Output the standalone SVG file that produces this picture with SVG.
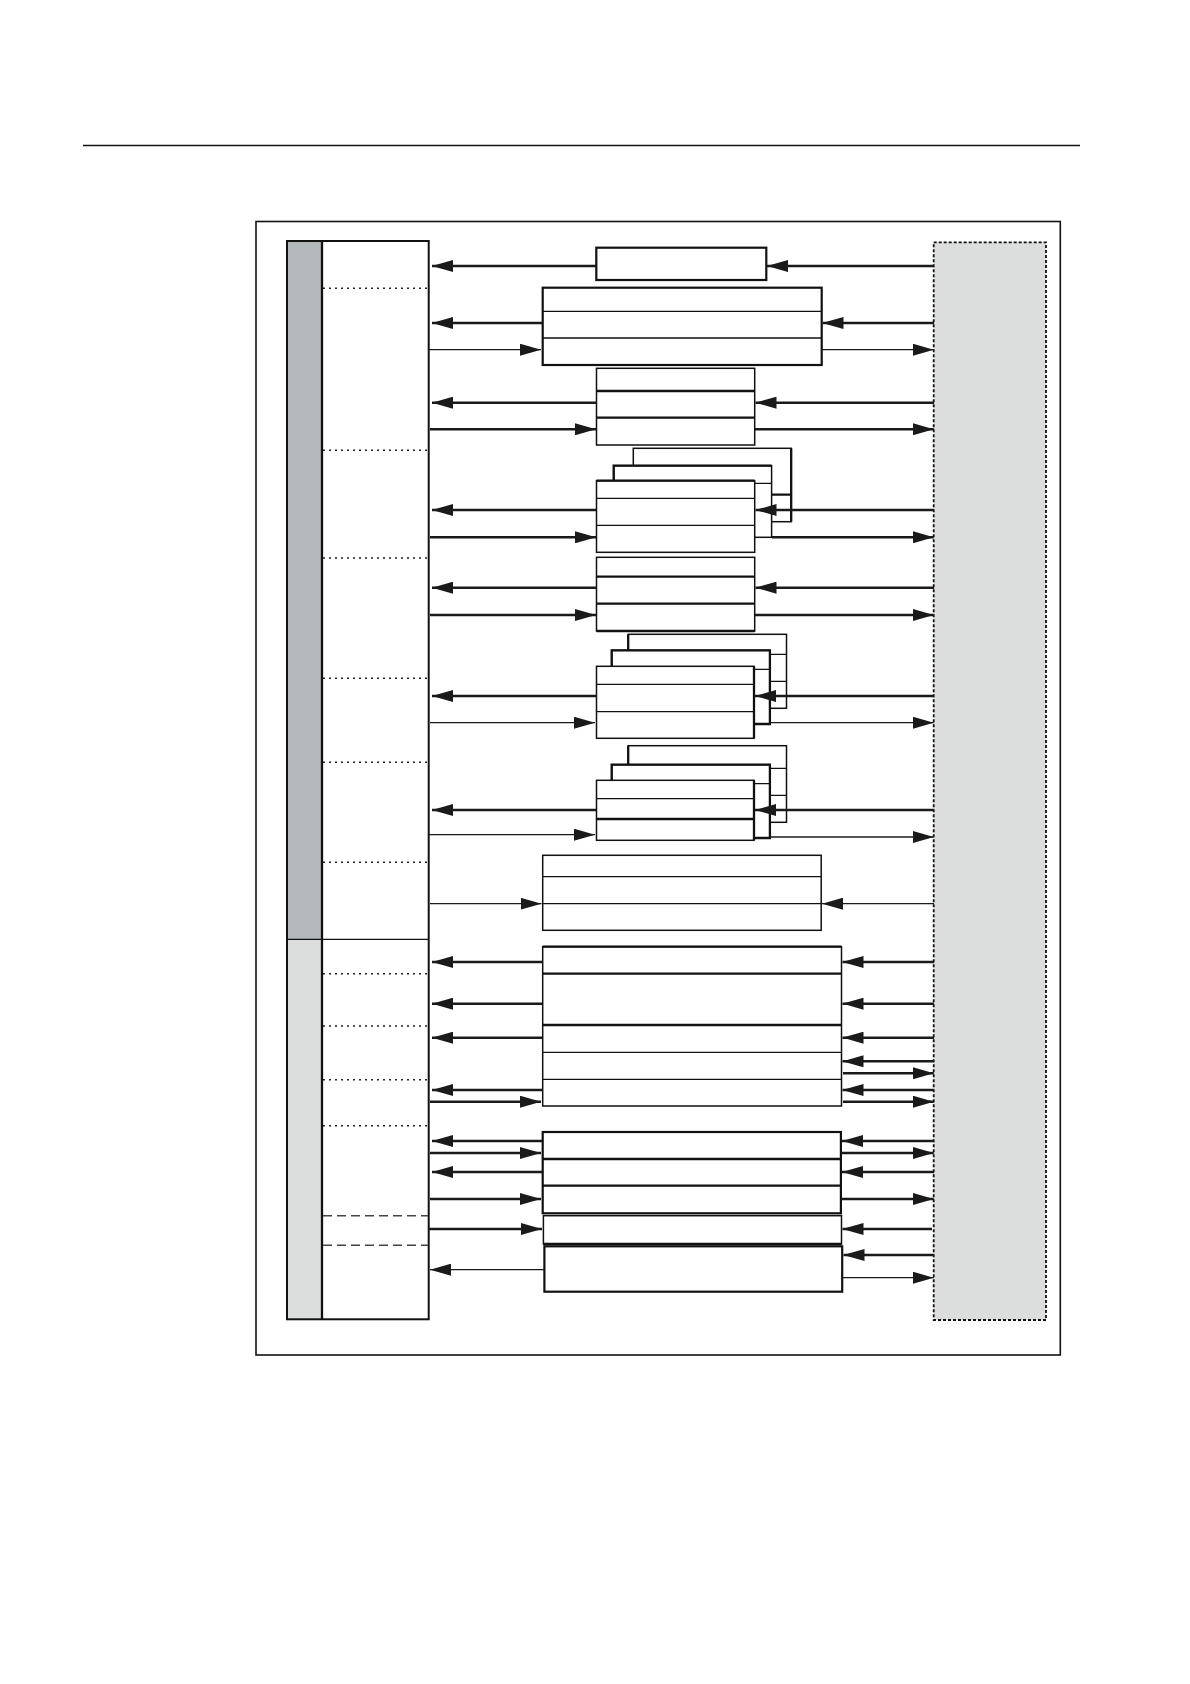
<svg xmlns="http://www.w3.org/2000/svg" width="1190" height="1684" viewBox="0 0 1190 1684">
<defs>
<marker id="ah" viewBox="0 0 21 12" refX="21" refY="6" markerWidth="21" markerHeight="12" markerUnits="userSpaceOnUse" orient="auto">
<path d="M0,0 L21,6 L0,12 z" fill="#1a1a1a"/>
</marker>
<style>
.bx{fill:#fff;stroke:#111;stroke-width:1.5}
.bk{fill:#fff;stroke:#111;stroke-width:2.2}
.ln{stroke:#111;stroke-width:1.3;fill:none}
.lk{stroke:#111;stroke-width:2.3;fill:none}
.dot{stroke:#222;stroke-width:1.6;stroke-dasharray:2,4;fill:none}
.dash{stroke:#444;stroke-width:1.6;stroke-dasharray:9,5;fill:none}
.a{stroke:#1a1a1a;stroke-width:2.4;fill:none;marker-end:url(#ah)}
.t{stroke:#1a1a1a;stroke-width:1.3;fill:none;marker-end:url(#ah)}
</style>
</defs>
<rect width="1190" height="1684" fill="#fff"/>
<line x1="83" y1="145.5" x2="1080" y2="145.5" stroke="#111" stroke-width="1.3"/>
<g id="frame"><rect x="256" y="221.5" width="804.3" height="1133.5" fill="none" stroke="#111" stroke-width="1.6"/></g>

<g id="left-column">
<rect x="287" y="241" width="35" height="698.3" fill="#b4babb"/>
<rect x="287" y="939.3" width="35" height="380" fill="#dcdede"/>
<rect x="322" y="241" width="106.7" height="1078.3" fill="#fff"/>
<line x1="322" y1="241" x2="322" y2="1319.3" class="lk"/>
<rect x="287" y="241" width="141.7" height="1078.3" fill="none" stroke="#111" stroke-width="2"/>
<line x1="287" y1="939.3" x2="428.7" y2="939.3" class="ln"/>
<line x1="323" y1="288.3" x2="428" y2="288.3" class="dot"/>
<line x1="323" y1="450.3" x2="428" y2="450.3" class="dot"/>
<line x1="323" y1="558" x2="428" y2="558" class="dot"/>
<line x1="323" y1="678.3" x2="428" y2="678.3" class="dot"/>
<line x1="323" y1="762.3" x2="428" y2="762.3" class="dot"/>
<line x1="323" y1="862.3" x2="428" y2="862.3" class="dot"/>
<line x1="323" y1="973.7" x2="428" y2="973.7" class="dot"/>
<line x1="323" y1="1026" x2="428" y2="1026" class="dot"/>
<line x1="323" y1="1079.7" x2="428" y2="1079.7" class="dot"/>
<line x1="323" y1="1125.7" x2="428" y2="1125.7" class="dot"/>
<line x1="323" y1="1215.7" x2="428" y2="1215.7" class="dash"/>
<line x1="323" y1="1245.3" x2="428" y2="1245.3" class="dash"/>
</g>

<g id="right-panel"><rect x="933.7" y="242.3" width="112.3" height="1077.7" fill="#dcdedd" stroke="#111" stroke-width="1.8" stroke-dasharray="3,2"/></g>

<g id="box1"><rect x="596.3" y="247.7" width="170" height="32.3" class="bk"/></g>
<g id="box2"><rect x="542.7" y="287.7" width="279" height="77.3" class="bk"/>
<line x1="542.7" y1="311.3" x2="821.7" y2="311.3" class="ln"/><line x1="542.7" y1="338" x2="821.7" y2="338" class="ln"/></g>
<g id="box3"><rect x="596.5" y="368.3" width="158.2" height="76.7" class="bx"/>
<line x1="596.5" y1="391" x2="754.7" y2="391" class="lk"/><line x1="596.5" y1="417.7" x2="754.7" y2="417.7" class="lk"/></g>

<g id="stackA">
<rect x="633.3" y="448.3" width="157.9" height="73.4" class="bx"/>
<line x1="633.3" y1="494.7" x2="791.2" y2="494.7" class="lk"/>
<path d="M791.2,448.3 V521.7" class="lk"/>
<rect x="613.7" y="465.7" width="157.9" height="71.6" class="bx"/>
<line x1="613.7" y1="483.3" x2="771.6" y2="483.3" class="ln"/>
<path d="M613.7,481 V465.7 H771.6" class="lk"/>
<rect x="596.5" y="480.7" width="158.2" height="71.6" class="bx"/>
<line x1="596.5" y1="498.3" x2="754.7" y2="498.3" class="ln"/><line x1="596.5" y1="525.3" x2="754.7" y2="525.3" class="ln"/>
<line x1="596.5" y1="480.7" x2="754.7" y2="480.7" class="lk"/>
</g>

<g id="boxB"><rect x="596.5" y="557.3" width="158.2" height="73.7" class="bx"/>
<line x1="596.5" y1="576.7" x2="754.7" y2="576.7" class="lk"/><line x1="596.5" y1="603.7" x2="754.7" y2="603.7" class="lk"/>
<line x1="596.5" y1="631" x2="754.7" y2="631" class="lk"/></g>

<g id="stackC">
<rect x="628.2" y="634.3" width="158.3" height="74" class="bx"/>
<line x1="628.2" y1="654.3" x2="786.5" y2="654.3" class="ln"/><line x1="628.2" y1="681.3" x2="786.5" y2="681.3" class="ln"/>
<path d="M628.2,650 V634.3" class="lk"/>
<rect x="611.7" y="650.3" width="158.2" height="73.7" class="bx"/>
<line x1="611.7" y1="669.3" x2="769.9" y2="669.3" class="ln"/>
<path d="M611.7,666 V650.3 H769.9 V724 H754" class="lk"/>
<rect x="596.5" y="666.3" width="157.5" height="72" class="bx"/>
<line x1="596.5" y1="684.3" x2="754" y2="684.3" class="ln"/><line x1="596.5" y1="711.7" x2="754" y2="711.7" class="ln"/>
<path d="M754,666.3 V738.3" class="lk"/>
</g>

<g id="stackD">
<rect x="628.2" y="745.7" width="158.3" height="76.6" class="bx"/>
<line x1="628.2" y1="768.3" x2="786.5" y2="768.3" class="ln"/><line x1="628.2" y1="795.3" x2="786.5" y2="795.3" class="ln"/>
<path d="M628.2,764 V745.7" class="lk"/>
<rect x="611.7" y="764.7" width="158.2" height="73.3" class="bx"/>
<line x1="611.7" y1="783.7" x2="769.9" y2="783.7" class="ln"/>
<path d="M611.7,780 V764.7 H769.9 V838 H754" class="lk"/>
<rect x="596.5" y="780.3" width="157.5" height="60" class="bx"/>
<line x1="596.5" y1="798.7" x2="754" y2="798.7" class="ln"/><line x1="596.5" y1="819" x2="754" y2="819" class="lk"/>
<path d="M754,780.3 V840.3" class="lk"/>
</g>

<g id="boxE"><rect x="542.7" y="855.3" width="278.5" height="75" class="bx"/>
<line x1="542.7" y1="876.7" x2="821.2" y2="876.7" class="ln"/><line x1="542.7" y1="903.7" x2="821.2" y2="903.7" class="ln"/></g>

<g id="boxF"><rect x="542.7" y="946.7" width="298.8" height="159.3" class="bx"/>
<line x1="542.7" y1="946.7" x2="841.5" y2="946.7" class="lk"/>
<line x1="542.7" y1="973.7" x2="841.5" y2="973.7" class="lk"/><line x1="542.7" y1="1025" x2="841.5" y2="1025" class="lk"/>
<line x1="542.7" y1="1052.3" x2="841.5" y2="1052.3" class="ln"/><line x1="542.7" y1="1079.3" x2="841.5" y2="1079.3" class="ln"/></g>

<g id="boxG"><rect x="542.7" y="1132" width="298.2" height="81.3" class="bk"/>
<line x1="542.7" y1="1159" x2="840.9" y2="1159" class="lk"/><line x1="542.7" y1="1185.7" x2="840.9" y2="1185.7" class="lk"/></g>
<g id="boxH"><rect x="543.4" y="1215.7" width="298.1" height="28.3" class="bx"/>
<line x1="543.4" y1="1244" x2="841.5" y2="1244" class="lk"/></g>
<g id="boxI"><rect x="544.4" y="1246.3" width="297.8" height="45.4" class="bk"/></g>

<g id="connectors">
<line x1="596" y1="266" x2="432" y2="266" class="a"/>
<line x1="542.7" y1="323" x2="432" y2="323" class="a"/>
<line x1="429" y1="349.7" x2="541" y2="349.7" class="t"/>
<line x1="596.5" y1="402.7" x2="432" y2="402.7" class="a"/>
<line x1="430" y1="429.3" x2="596" y2="429.3" class="a"/>
<line x1="596.5" y1="510" x2="432" y2="510" class="a"/>
<line x1="430" y1="537.3" x2="596" y2="537.3" class="a"/>
<line x1="596.5" y1="587.7" x2="432" y2="587.7" class="a"/>
<line x1="430" y1="615" x2="596" y2="615" class="a"/>
<line x1="596.5" y1="696" x2="432" y2="696" class="a"/>
<line x1="430" y1="722.7" x2="595" y2="722.7" class="t"/>
<line x1="596.5" y1="810" x2="432" y2="810" class="a"/>
<line x1="429" y1="834.7" x2="595" y2="834.7" class="t"/>
<line x1="430" y1="903.7" x2="541.5" y2="903.7" class="t"/>
<line x1="542" y1="962" x2="432" y2="962" class="a"/>
<line x1="542" y1="1003.7" x2="432" y2="1003.7" class="a"/>
<line x1="542" y1="1037.7" x2="432" y2="1037.7" class="a"/>
<line x1="542" y1="1090" x2="432" y2="1090" class="a"/>
<line x1="430" y1="1101.7" x2="541" y2="1101.7" class="a"/>
<line x1="542" y1="1141" x2="432" y2="1141" class="a"/>
<line x1="430" y1="1153" x2="541" y2="1153" class="a"/>
<line x1="542" y1="1172" x2="432" y2="1172" class="a"/>
<line x1="430" y1="1199" x2="541" y2="1199" class="a"/>
<line x1="429" y1="1229" x2="542" y2="1229" class="a"/>
<line x1="544" y1="1269.7" x2="430" y2="1269.7" class="t"/>

<line x1="934" y1="266" x2="767" y2="266" class="a"/>
<line x1="934" y1="323" x2="822.5" y2="323" class="a"/>
<line x1="822" y1="349.7" x2="933.8" y2="349.7" class="t"/>
<line x1="934" y1="402.7" x2="755.5" y2="402.7" class="a"/>
<line x1="755" y1="429.3" x2="933.8" y2="429.3" class="a"/>
<line x1="934" y1="510" x2="755.5" y2="510" class="a"/>
<line x1="772" y1="537.3" x2="933.8" y2="537.3" class="a"/>
<line x1="934" y1="587.7" x2="755.5" y2="587.7" class="a"/>
<line x1="755" y1="615" x2="933.8" y2="615" class="a"/>
<line x1="934" y1="696" x2="755" y2="696" class="a"/>
<line x1="770" y1="722.7" x2="933.8" y2="722.7" class="t"/>
<line x1="934" y1="810" x2="755" y2="810" class="a"/>
<line x1="770" y1="837" x2="933.8" y2="837" class="t"/>
<line x1="934" y1="903.7" x2="822" y2="903.7" class="t"/>
<line x1="934" y1="962" x2="842.5" y2="962" class="a"/>
<line x1="934" y1="1003.7" x2="842.5" y2="1003.7" class="a"/>
<line x1="934" y1="1037.7" x2="842.5" y2="1037.7" class="a"/>
<line x1="934" y1="1061.3" x2="842.5" y2="1061.3" class="a"/>
<line x1="843" y1="1073.3" x2="933.8" y2="1073.3" class="a"/>
<line x1="934" y1="1090" x2="842.5" y2="1090" class="a"/>
<line x1="843" y1="1101.7" x2="933.8" y2="1101.7" class="a"/>
<line x1="934" y1="1141" x2="842" y2="1141" class="a"/>
<line x1="841" y1="1153" x2="933.8" y2="1153" class="a"/>
<line x1="934" y1="1172" x2="842" y2="1172" class="a"/>
<line x1="841" y1="1199" x2="933.8" y2="1199" class="a"/>
<line x1="932" y1="1229" x2="842.5" y2="1229" class="a"/>
<line x1="934" y1="1255" x2="843.5" y2="1255" class="a"/>
<line x1="843" y1="1277.7" x2="933.8" y2="1277.7" class="t"/>
</g>
</svg>
